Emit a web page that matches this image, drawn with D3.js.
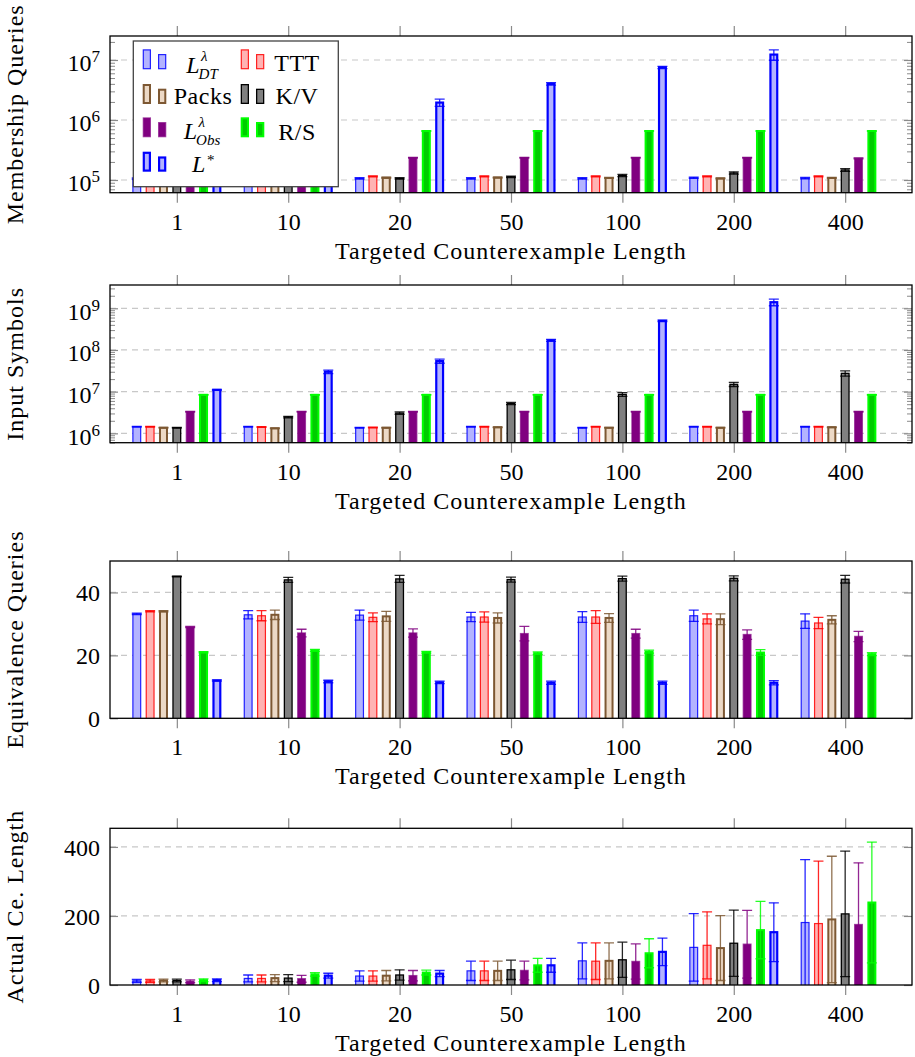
<!DOCTYPE html>
<html>
<head>
<meta charset="utf-8">
<script src="https://cdnjs.cloudflare.com/ajax/libs/d3/7.8.5/d3.min.js"></script>
<style>
body { margin: 0; background: #fff; }
</style>
</head>
<body>
<script>
// categories on the x axis (targeted counterexample length)
var categories = ["1", "10", "20", "50", "100", "200", "400"];
var seriesNames = ["LDT", "TTT", "Packs", "K/V", "LObs", "R/S", "L*"];

// membership queries, one row per series (null = no result)
var mqValues = [
    [1.05e5, 1.05e5, 1.06e5, 1.06e5, 1.06e5, 1.09e5, 1.07e5],
    [1.15e5, 1.15e5, 1.15e5, 1.15e5, 1.15e5, 1.15e5, 1.15e5],
    [1.08e5, 1.08e5, 1.09e5, 1.10e5, 1.08e5, 1.06e5, 1.08e5],
    [1.00e5, 1.03e5, 1.06e5, 1.13e5, 1.19e5, 1.31e5, 1.47e5],
    [2.35e5, 2.35e5, 2.35e5, 2.35e5, 2.35e5, 2.35e5, 2.29e5],
    [6.55e5, 6.55e5, 6.55e5, 6.55e5, 6.55e5, 6.55e5, 6.55e5],
    [4.5e5, 1.2e6, 1.95e6, 4.0e6, 7.5e6, 1.23e7, null]
];
var mqErrors = [
    [3e3, 3e3, 3e3, 3e3, 3e3, 3e3, 3e3],
    [2e3, 2e3, 2e3, 2e3, 2e3, 2e3, 2e3],
    [2e3, 2e3, 2e3, 2e3, 2e3, 2e3, 2e3],
    [2e3, 2e3, 3e3, 3e3, 5e3, 6e3, 8e3],
    [3e3, 3e3, 3e3, 3e3, 3e3, 3e3, 4e3],
    [4e3, 4e3, 4e3, 4e3, 4e3, 4e3, 4e3],
    [3e4, 1e5, 2.7e5, 2e5, 3e5, 2.4e6, null]
];

// input symbols
var isValues = [
    [1.44e6, 1.44e6, 1.36e6, 1.44e6, 1.36e6, 1.44e6, 1.44e6],
    [1.44e6, 1.42e6, 1.38e6, 1.44e6, 1.44e6, 1.44e6, 1.44e6],
    [1.36e6, 1.32e6, 1.36e6, 1.40e6, 1.36e6, 1.36e6, 1.40e6],
    [1.36e6, 2.46e6, 3.07e6, 5.2e6, 8.6e6, 1.5e7, 2.75e7],
    [3.3e6, 3.3e6, 3.3e6, 3.3e6, 3.3e6, 3.3e6, 3.3e6],
    [8.4e6, 8.4e6, 8.4e6, 8.4e6, 8.4e6, 8.4e6, 8.4e6],
    [1.1e7, 3.0e7, 5.4e7, 1.7e8, 5.0e8, 1.4e9, null]
];
var isErrors = [
    [3e4, 3e4, 3e4, 3e4, 3e4, 3e4, 3e4],
    [3e4, 3e4, 3e4, 3e4, 3e4, 3e4, 3e4],
    [3e4, 3e4, 3e4, 3e4, 3e4, 3e4, 3e4],
    [3e4, 1e5, 2e5, 3e5, 9e5, 1.7e6, 4e6],
    [6e4, 6e4, 6e4, 6e4, 6e4, 6e4, 6e4],
    [1e5, 1e5, 1e5, 1e5, 1e5, 1e5, 1e5],
    [3e5, 3e6, 6e6, 1e7, 2e7, 2.5e8, null]
];

// equivalence queries
var eqValues = [
    [33.2, 32.9, 32.8, 32.2, 32.2, 32.6, 30.9],
    [34.0, 32.6, 32.1, 32.2, 32.2, 31.6, 30.3],
    [34.0, 32.9, 32.4, 31.9, 31.9, 31.5, 31.3],
    [45.1, 44.0, 44.3, 44.1, 44.4, 44.5, 44.2],
    [29.0, 27.1, 27.1, 26.9, 26.9, 26.6, 26.0],
    [21.0, 21.6, 21.0, 20.7, 21.2, 20.9, 20.4],
    [12.0, 11.7, 11.4, 11.3, 11.3, 11.3, null]
];
var eqErrors = [
    [0.2, 1.3, 1.6, 1.5, 1.7, 1.8, 2.3],
    [0.2, 1.6, 1.4, 1.6, 2.0, 1.6, 1.8],
    [0.2, 1.5, 1.6, 1.6, 1.4, 1.7, 1.3],
    [0.1, 0.8, 1.1, 0.8, 0.8, 0.8, 1.2],
    [0.2, 1.2, 1.3, 2.3, 1.4, 1.5, 1.6],
    [0.2, 0.3, 0.3, 0.4, 0.5, 0.9, 0.5],
    [0.2, 0.4, 0.4, 0.5, 0.5, 0.7, null]
];

// actual counterexample length
var ceValues = [
    [12, 19, 26, 41, 70, 109, 181],
    [12, 19, 26, 41, 69, 115, 178],
    [13, 20, 27, 41, 70, 107, 190],
    [13, 20, 29, 44, 73, 121, 206],
    [11, 18, 27, 42, 68, 118, 175],
    [14, 31, 36, 57, 92, 159, 239],
    [14, 27, 33, 57, 96, 153, null]
];
var ceErrors = [
    [4, 10, 15, 28, 52, 98, 182],
    [4, 10, 15, 28, 53, 97, 181],
    [4, 10, 15, 28, 52, 94, 183],
    [4, 10, 15, 28, 51, 96, 182],
    [4, 10, 15, 27, 51, 98, 179],
    [4, 5, 7, 20, 42, 83, 175],
    [4, 7, 9, 20, 40, 85, null]
];

var styles = [
    {fill: "#b3b3ff", stroke: "#0000ff", sw: 1.2, op: 0.85},
    {fill: "#ffb3b3", stroke: "#ff0000", sw: 1.2, op: 0.85},
    {fill: "#ecd9c6", stroke: "#7d5833", sw: 2, op: 1},
    {fill: "#808080", stroke: "#000000", sw: 1.3, op: 1},
    {fill: "#800080", stroke: "#800080", sw: 1.5, op: 0.7},
    {fill: "#00cc00", stroke: "#00ff00", sw: 2, op: 1},
    {fill: "#b3b3ff", stroke: "#0000ff", sw: 2.2, op: 1}
];

var FONT = "'Liberation Serif', 'DejaVu Serif', 'Noto Serif', serif";
var width = 915;
var height = 1057;
var plotLeft = 110;
var plotRight = 912;
var barStep = 13.35;
var barOuter = 9;

var panels = [
    {title: "Membership Queries", top: 36, bottom: 192.7, log: true,
     domain: [6.14e4, 2.51e7], majors: [1e5, 1e6, 1e7], values: mqValues, errors: mqErrors},
    {title: "Input Symbols", top: 285, bottom: 442.7, log: true,
     domain: [5.96e5, 3.62e9], majors: [1e6, 1e7, 1e8, 1e9], values: isValues, errors: isErrors},
    {title: "Equivalence Queries", top: 561, bottom: 718.3, log: false,
     domain: [0, 50], majors: [0, 20, 40], values: eqValues, errors: eqErrors},
    {title: "Actual Ce. Length", top: 828.3, bottom: 985, log: false,
     domain: [0, 454], majors: [0, 200, 400], values: ceValues, errors: ceErrors}
];

var svg = d3.select("body")
    .append("svg")
    .attr("width", width)
    .attr("height", height)
    .style("font-family", FONT);

panels.forEach(function(p, idx) { drawPanel(p, idx); });
drawLegend();

// make sure every label uses the serif face
svg.selectAll("text").style("font-family", FONT).attr("fill", "#000");


function drawPanel(p, idx) {
    var x = d3.scalePoint()
        .domain(categories)
        .range([plotLeft, plotRight])
        .padding(0.6);
    var y = (p.log ? d3.scaleLog() : d3.scaleLinear())
        .domain(p.domain)
        .range([p.bottom, p.top]);

    var g = svg.append("g");

    g.append("clipPath")
        .attr("id", "clip" + idx)
        .append("rect")
        .attr("x", plotLeft)
        .attr("y", p.top)
        .attr("width", plotRight - plotLeft)
        .attr("height", p.bottom - p.top);

    // dashed grid lines
    g.selectAll(".grid")
        .data(p.majors.filter(function(v) { return y(v) < p.bottom - 1; }))
        .enter()
        .append("line")
        .attr("x1", plotLeft)
        .attr("x2", plotRight)
        .attr("y1", function(d) { return y(d); })
        .attr("y2", function(d) { return y(d); })
        .attr("stroke", "#c8c8c8")
        .attr("stroke-width", 1.2)
        .attr("stroke-dasharray", "6,5");

    // flatten into one record per bar
    var records = [];
    p.values.forEach(function(row, s) {
        row.forEach(function(v, i) {
            if (v !== null) {
                records.push({s: s, cat: categories[i], v: v, e: p.errors[s][i]});
            }
        });
    });

    var plot = g.append("g").attr("clip-path", "url(#clip" + idx + ")");

    plot.selectAll(".bar")
        .data(records)
        .enter()
        .append("rect")
        .attr("class", "bar")
        .attr("x", function(d) {
            var sw = styles[d.s].sw;
            return x(d.cat) + (d.s - 3) * barStep - barOuter / 2 + sw / 2;
        })
        .attr("width", function(d) { return barOuter - styles[d.s].sw; })
        .attr("y", function(d) { return y(d.v); })
        .attr("height", function(d) { return p.bottom - y(d.v) + 2; })
        .attr("fill", function(d) { return styles[d.s].fill; })
        .attr("stroke", function(d) { return styles[d.s].stroke; })
        .attr("stroke-opacity", function(d) { return styles[d.s].op; })
        .attr("stroke-width", function(d) { return styles[d.s].sw; });

    // error bars
    var err = plot.selectAll(".err")
        .data(records)
        .enter()
        .append("g")
        .attr("class", "err")
        .attr("stroke", function(d) { return styles[d.s].stroke; })
        .attr("stroke-opacity", 0.85)
        .attr("stroke-width", 1.3)
        .attr("transform", function(d) { return "translate(" + (x(d.cat) + (d.s - 3) * barStep) + ",0)"; });

    function lo(d) { return d.v - d.e > 0 ? y(d.v - d.e) : p.bottom + 10; }
    function hi(d) { return y(d.v + d.e); }

    err.append("line")
        .attr("x1", 0).attr("x2", 0)
        .attr("y1", lo)
        .attr("y2", hi);
    err.append("line")
        .attr("x1", -5).attr("x2", 5)
        .attr("y1", hi).attr("y2", hi);
    err.append("line")
        .attr("x1", -5).attr("x2", 5)
        .attr("y1", lo).attr("y2", lo);

    // x axis ticks, bottom with labels and top without
    var xb = g.append("g")
        .attr("transform", "translate(0," + p.bottom + ")")
        .call(d3.axisBottom(x).tickSize(10).tickPadding(10));
    var xt = g.append("g")
        .attr("transform", "translate(0," + p.top + ")")
        .call(d3.axisTop(x).tickSize(10).tickFormat(""));

    // y axis ticks, left with labels and right without
    var yl = g.append("g")
        .attr("transform", "translate(" + plotLeft + ",0)")
        .call(d3.axisLeft(y).tickValues(p.majors).tickSize(-8).tickPadding(10)
            .tickFormat(function(d) { return p.log ? "" : d3.format("d")(d); }));
    var yr = g.append("g")
        .attr("transform", "translate(" + plotRight + ",0)")
        .call(d3.axisRight(y).tickValues(p.majors).tickSize(-8).tickFormat(""));

    [xb, xt, yl, yr].forEach(function(a) {
        a.select(".domain").remove();
        a.attr("font-size", 24).attr("font-family", null);
        a.selectAll(".tick line").attr("stroke", "#8a8a8a").attr("stroke-width", 1.2);
    });

    if (p.log) {
        // minor ticks at 2..9 times each power of ten
        var minors = [];
        for (var k = Math.floor(Math.log10(p.domain[0])); k <= Math.ceil(Math.log10(p.domain[1])); k++) {
            for (var m = 2; m <= 9; m++) {
                var v = m * Math.pow(10, k);
                if (v > p.domain[0] && v < p.domain[1]) minors.push(v);
            }
        }
        var ml = g.append("g")
            .attr("transform", "translate(" + plotLeft + ",0)")
            .call(d3.axisLeft(y).tickValues(minors).tickSize(-5).tickFormat(""));
        var mr = g.append("g")
            .attr("transform", "translate(" + plotRight + ",0)")
            .call(d3.axisRight(y).tickValues(minors).tickSize(-5).tickFormat(""));
        [ml, mr].forEach(function(a) {
            a.select(".domain").remove();
            a.selectAll(".tick line").attr("stroke", "#8a8a8a").attr("stroke-width", 1);
        });

        // labels as 10 with a superscript exponent
        yl.selectAll(".tick text")
            .attr("dy", 11)
            .each(function(d) {
                var t = d3.select(this);
                t.text(null);
                t.append("tspan").text("10");
                t.append("tspan")
                    .attr("dy", -9)
                    .attr("font-size", 17)
                    .text(Math.round(Math.log10(d)));
            });
    } else {
        yl.selectAll(".tick text").attr("dy", 8.5);
    }

    // axis frame
    g.append("rect")
        .attr("x", plotLeft)
        .attr("y", p.top)
        .attr("width", plotRight - plotLeft)
        .attr("height", p.bottom - p.top)
        .attr("fill", "none")
        .attr("stroke", "#000")
        .attr("stroke-width", 1.3);

    // axis titles
    g.append("text")
        .attr("x", (plotLeft + plotRight) / 2)
        .attr("y", p.bottom + 66)
        .attr("text-anchor", "middle")
        .attr("font-size", 24)
        .style("letter-spacing", "1px")
        .text("Targeted Counterexample Length");

    g.append("text")
        .attr("transform", "translate(23," + ((p.top + p.bottom) / 2) + ") rotate(-90)")
        .attr("text-anchor", "middle")
        .attr("font-size", 24)
        .style("letter-spacing", "1px")
        .text(p.title);
}


function drawLegend() {
    var lg = svg.append("g");

    lg.append("rect")
        .attr("x", 133.3)
        .attr("y", 41)
        .attr("width", 205)
        .attr("height", 145.7)
        .attr("fill", "#fff")
        .attr("stroke", "#444")
        .attr("stroke-width", 1.3);

    var iconBottom = [69.3, 104, 137.3, 171.7];
    var iconLeft = [142.7, 240.7];
    var textCenter = [203, 297];
    var entries = [
        {s: 0, col: 0, row: 0, base: 73.3, main: "L", sup: "λ", sub: "DT"},
        {s: 1, col: 1, row: 0, base: 70.5, text: "TTT"},
        {s: 2, col: 0, row: 1, base: 104, text: "Packs"},
        {s: 3, col: 1, row: 1, base: 104, text: "K/V"},
        {s: 4, col: 0, row: 2, base: 139, main: "L", sup: "λ", sub: "Obs"},
        {s: 5, col: 1, row: 2, base: 139.5, text: "R/S"},
        {s: 6, col: 0, row: 3, base: 171.7, main: "L", sup: "*", sub: null}
    ];

    // width of a string at a given size, measured in the page
    function measure(str, size, italic) {
        var t = lg.append("text")
            .style("font-family", FONT)
            .attr("font-size", size)
            .attr("font-style", italic ? "italic" : "normal")
            .text(str);
        var w = t.node().getComputedTextLength();
        t.remove();
        return w;
    }

    entries.forEach(function(en) {
        var st = styles[en.s];
        var bottom = iconBottom[en.row];
        [[0, 20], [15.3, 15.3]].forEach(function(b) {
            lg.append("rect")
                .attr("x", iconLeft[en.col] + b[0] + st.sw / 2)
                .attr("y", bottom - b[1] + st.sw / 2)
                .attr("width", 8.3 - st.sw)
                .attr("height", b[1] - st.sw)
                .attr("fill", st.fill)
                .attr("stroke", st.stroke)
                .attr("stroke-opacity", st.op)
                .attr("stroke-width", st.sw);
        });

        var cx = textCenter[en.col];
        if (en.text) {
            lg.append("text")
                .attr("x", cx)
                .attr("y", en.base)
                .attr("text-anchor", "middle")
                .attr("font-size", 24)
                .style("letter-spacing", "0.5px")
                .text(en.text);
        } else {
            // L with stacked superscript and subscript
            var starSup = en.sup === "*";
            var wL = measure(en.main, 24, true);
            var wSup = measure(en.sup, 15, !starSup);
            var wSub = en.sub ? measure(en.sub, 15, true) : 0;
            var total = wL + 1 + Math.max(wSup, wSub);
            var x0 = cx - total / 2;
            var supDy = starSup ? -7 : -12;

            var t = lg.append("text")
                .attr("x", x0)
                .attr("y", en.base);
            t.append("tspan")
                .attr("font-size", 24)
                .attr("font-style", "italic")
                .text(en.main);
            t.append("tspan")
                .attr("x", x0 + wL + 1.5)
                .attr("dy", supDy)
                .attr("font-size", 15)
                .attr("font-style", starSup ? "normal" : "italic")
                .text(en.sup);
            if (en.sub) {
                t.append("tspan")
                    .attr("x", x0 + wL - 1)
                    .attr("dy", -supDy + 6)
                    .attr("font-size", 15)
                    .attr("font-style", "italic")
                    .text(en.sub);
            }
        }
    });
}
</script>
</body>
</html>
